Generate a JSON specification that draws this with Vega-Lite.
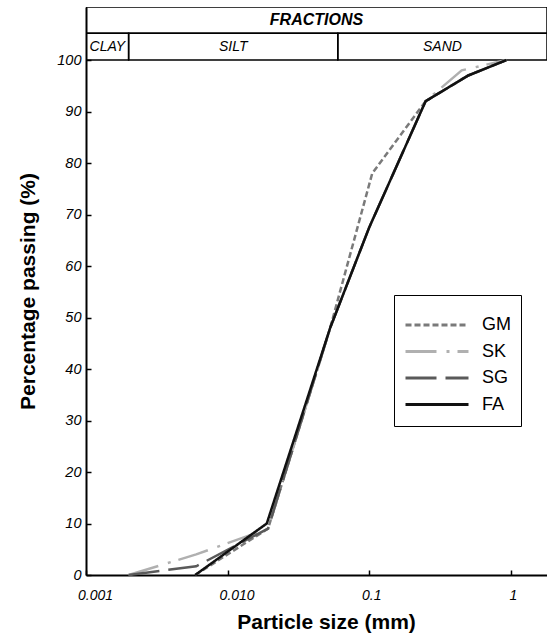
{
  "$schema": "https://vega.github.io/schema/vega-lite/v6.json",
  "autosize": {"type": "none"},
  "padding": {"left": 86, "top": 7, "right": 0, "bottom": 62},
  "width": 461,
  "height": 568,
  "background": "white",
  "config": {
    "view": {"stroke": null},
    "font": "Liberation Sans"
  },
  "datasets": {
    "curves": [
      {"sample": "GM", "size": 0.0059, "passing": 0},
      {"sample": "GM", "size": 0.0193, "passing": 9},
      {"sample": "GM", "size": 0.053, "passing": 48},
      {"sample": "GM", "size": 0.105, "passing": 78},
      {"sample": "GM", "size": 0.25, "passing": 92},
      {"sample": "GM", "size": 0.5, "passing": 97},
      {"sample": "GM", "size": 0.93, "passing": 100},
      {"sample": "SK", "size": 0.002, "passing": 0},
      {"sample": "SK", "size": 0.006, "passing": 4},
      {"sample": "SK", "size": 0.0193, "passing": 9},
      {"sample": "SK", "size": 0.053, "passing": 48},
      {"sample": "SK", "size": 0.1, "passing": 67.5},
      {"sample": "SK", "size": 0.25, "passing": 92},
      {"sample": "SK", "size": 0.45, "passing": 98},
      {"sample": "SK", "size": 0.93, "passing": 100},
      {"sample": "SG", "size": 0.002, "passing": 0},
      {"sample": "SG", "size": 0.006, "passing": 1.7},
      {"sample": "SG", "size": 0.0193, "passing": 9},
      {"sample": "SG", "size": 0.053, "passing": 48},
      {"sample": "SG", "size": 0.1, "passing": 67.5},
      {"sample": "SG", "size": 0.25, "passing": 92},
      {"sample": "SG", "size": 0.5, "passing": 97},
      {"sample": "SG", "size": 0.93, "passing": 100},
      {"sample": "FA", "size": 0.0059, "passing": 0},
      {"sample": "FA", "size": 0.0189, "passing": 10},
      {"sample": "FA", "size": 0.053, "passing": 48},
      {"sample": "FA", "size": 0.1, "passing": 67.5},
      {"sample": "FA", "size": 0.25, "passing": 92},
      {"sample": "FA", "size": 0.5, "passing": 97},
      {"sample": "FA", "size": 0.93, "passing": 100}
    ],
    "fractions": [
      {"fraction": "CLAY", "lo": 0.001, "hi": 0.002},
      {"fraction": "SILT", "lo": 0.002, "hi": 0.06},
      {"fraction": "SAND", "lo": 0.06, "hi": 1.8}
    ],
    "header": [
      {"label": "FRACTIONS", "lo": 0.001, "hi": 1.8}
    ]
  },
  "layer": [
    {
      "data": {"name": "fractions"},
      "mark": {"type": "rect", "fill": null, "stroke": "black", "strokeWidth": 1.5, "clip": true},
      "encoding": {
        "x": {"field": "lo", "type": "quantitative", "scale": {"type": "log", "domain": [0.001, 1.8], "nice": false}},
        "x2": {"field": "hi"},
        "y": {"datum": 100},
        "y2": {"datum": 105.2}
      }
    },
    {
      "data": {"name": "fractions"},
      "transform": [{"calculate": "sqrt(datum.lo * datum.hi)", "as": "mid"}],
      "mark": {"type": "text", "fontStyle": "italic", "fontSize": 14, "font": "Liberation Sans", "baseline": "middle"},
      "encoding": {
        "x": {"field": "mid", "type": "quantitative"},
        "y": {"datum": 102.6},
        "text": {"field": "fraction"}
      }
    },
    {
      "data": {"name": "header"},
      "mark": {"type": "rect", "fill": null, "stroke": "black", "strokeWidth": 1.5, "clip": true},
      "encoding": {
        "x": {"field": "lo", "type": "quantitative"},
        "x2": {"field": "hi"},
        "y": {"datum": 105.2},
        "y2": {"datum": 110.3}
      }
    },
    {
      "data": {"name": "header"},
      "transform": [{"calculate": "sqrt(datum.lo * datum.hi)", "as": "mid"}],
      "mark": {"type": "text", "fontStyle": "italic", "fontWeight": "bold", "fontSize": 16, "font": "Liberation Sans", "baseline": "middle"},
      "encoding": {
        "x": {"field": "mid", "type": "quantitative"},
        "y": {"datum": 107.75},
        "text": {"field": "label"}
      }
    },
    {
      "data": {"name": "curves"},
      "mark": {"type": "line", "strokeWidth": 2.5},
      "encoding": {
        "x": {
          "field": "size", "type": "quantitative",
          "scale": {"type": "log", "domain": [0.001, 1.8], "nice": false},
          "axis": {
            "title": "Particle size (mm)",
            "titleFont": "Liberation Sans", "titleFontSize": 21, "titleFontWeight": "bold", "titleColor": "black",
            "titleX": 240, "titleY": 47, "titleBaseline": "middle",
            "values": [0.001, 0.01, 0.1, 1],
            "labelExpr": "datum.value < 0.005 ? '0.001' : datum.value < 0.05 ? '0.010' : datum.value < 0.5 ? '0.1' : '1'",
            "labelFont": "Liberation Sans", "labelFontSize": 14, "labelFontStyle": "italic", "labelColor": "black",
            "labelPadding": 18, "labelFlush": false,
            "labelOffset": {"condition": {"test": "datum.value < 0.05", "value": 9}, "value": 2},
            "tickSize": -5, "tickColor": "black", "tickWidth": 1.5,
            "domainColor": "black", "domainWidth": 2, "grid": false
          }
        },
        "y": {
          "field": "passing", "type": "quantitative",
          "scale": {"domain": [0, 110.3], "nice": false},
          "axis": {
            "title": "Percentage passing (%)",
            "titleFont": "Liberation Sans", "titleFontSize": 21, "titleFontWeight": "bold", "titleColor": "black",
            "titleX": -48,
            "values": [0, 10, 20, 30, 40, 50, 60, 70, 80, 90, 100],
            "labelFont": "Liberation Sans", "labelFontSize": 14.5, "labelFontStyle": "italic", "labelColor": "black",
            "labelPadding": 10,
            "tickSize": -5, "tickColor": "black", "tickWidth": 1.5,
            "domainColor": "black", "domainWidth": 2, "grid": false
          }
        },
        "color": {
          "field": "sample", "type": "nominal",
          "scale": {"domain": ["GM", "SK", "SG", "FA"], "range": ["#7a7a7a", "#b0b0b0", "#5a5a5a", "#111111"]},
          "legend": {
            "title": " ", "titleFontSize": 2, "titlePadding": 7,
            "orient": "none", "legendX": 308, "legendY": 288,
            "symbolType": "stroke", "symbolSize": 3969, "symbolStrokeWidth": 3,
            "labelFont": "Liberation Sans", "labelFontSize": 18, "labelColor": "black", "labelOffset": 12,
            "labelExpr": "datum.label + '\u00a0\u00a0'",
            "rowPadding": 4.5, "padding": 10, "strokeColor": "black", "clipHeight": 22
          }
        },
        "strokeDash": {
          "field": "sample", "type": "nominal",
          "scale": {"domain": ["GM", "SK", "SG", "FA"], "range": [[6, 3], [31, 10, 3, 8], [31, 9], [1, 0]]}
        },
        "order": {"field": "size", "type": "quantitative"}
      }
    }
  ]
}
